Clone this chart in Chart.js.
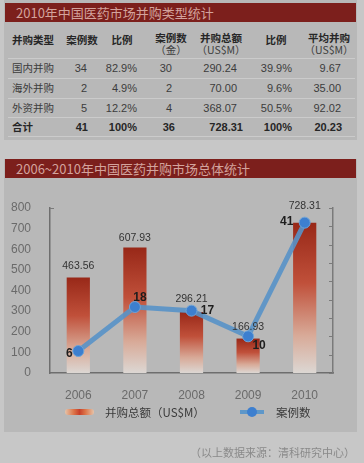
<!DOCTYPE html>
<html>
<head>
<meta charset="utf-8">
<script src="https://cdn.jsdelivr.net/npm/chart.js@4.4.0/dist/chart.umd.min.js"></script>
<style>
  body { margin: 0; width: 364px; height: 463px; background: #c7c7c7; position: relative; overflow: hidden;
         font-family: "Liberation Sans", "Noto Sans CJK SC", sans-serif; }
  .panel { position: absolute; left: 4px; width: 353px; background: #b8b8b8; }
  .title { position: absolute; left: 5px; width: 351px; height: 19px; background: #7c1f1c; color: #d3a39d;
           font-size: 13px; line-height: 19px; text-indent: 11px; font-family: "Noto Sans CJK SC", sans-serif; }
  .t { position: absolute; font-size: 11px; line-height: 12px; color: #3c3c3c; white-space: nowrap; }
  .cjk { font-family: "Noto Sans CJK SC", sans-serif; font-size: 10.5px; }
  .b { font-weight: bold; color: #262626; }
  .sep { position: absolute; left: 8px; width: 347px; height: 1px; background: #cbcbcb; }
  #wrap { position: absolute; left: 0; top: 185px; width: 364px; height: 220px; }
  .lg { position: absolute; font-size: 11.5px; color: #3a3a3a; font-family: "Noto Sans CJK SC", sans-serif; line-height: 14px; }
</style>
</head>
<body>
<div class="panel" style="top:0;height:140px"></div>
<div class="panel" style="top:159px;height:273px"></div>
<div class="title" style="top:3px">2010年中国医药市场并购类型统计</div>
<div class="title" style="top:159px">2006~2010年中国医药并购市场总体统计</div>
<div id="table"></div>
<div id="wrap"><canvas id="chart" width="364" height="220"></canvas></div>

<div style="position:absolute;left:65px;top:409px;width:29px;height:6px;border-radius:3px;
  background:linear-gradient(90deg,#e6c3a8,#dc7448 30%,#c8402a 50%,#dc7448 70%,#e6c3a8)"></div>
<div class="lg" style="left:105px;top:405px">并购总额（US$M）</div>
<div style="position:absolute;left:240px;top:410px;width:24px;height:4px;background:#5e97c9"></div>
<div style="position:absolute;left:247px;top:407px;width:10px;height:10px;border-radius:5px;background:#3d7fcf"></div>
<div class="lg" style="left:276px;top:405px">案例数</div>
<div class="t cjk" style="right:9px;top:446px;color:#8a8a8a;font-size:11px">（以上数据来源：清科研究中心）</div>

<script>
// table rows
const typeNames = ["国内并购", "海外并购", "外资并购"];
const caseNum = ["34", "2", "5"];
const caseRatio = ["82.9%", "4.9%", "12.2%"];
const caseWithAmount = ["30", "2", "4"];
const amountTotal = ["290.24", "70.00", "368.07"];
const amountRatio = ["39.9%", "9.6%", "50.5%"];
const amountAvg = ["9.67", "35.00", "92.02"];
const totals = ["合计", "41", "100%", "36", "728.31", "100%", "20.23"];

// chart data
const years = ["2006", "2007", "2008", "2009", "2010"];
const dealAmounts = [463.56, 607.93, 296.21, 166.93, 728.31];
const caseCounts = [6, 18, 17, 10, 41];

const table = document.getElementById("table");

function cell(text, x, y, align, cls) {
  const d = document.createElement("div");
  d.className = "t " + (cls || "");
  d.textContent = text;
  d.style.top = (y - 6) + "px";
  if (align == "right") d.style.right = (364 - x) + "px";
  else if (align == "center") { d.style.left = (x - 50) + "px"; d.style.width = "100px"; d.style.textAlign = "center"; }
  else d.style.left = x + "px";
  table.appendChild(d);
}

// header
cell("并购类型", 12, 40, "left", "cjk b");
cell("案例数", 82, 40, "center", "cjk b");
cell("比例", 122, 40, "center", "cjk b");
cell("案例数", 171, 38, "center", "cjk b");
cell("（金）", 171, 50, "center", "cjk");
cell("并购总额", 221, 38, "center", "cjk b");
cell("（US$M）", 221, 50, "center", "cjk");
cell("比例", 276, 40, "center", "cjk b");
cell("平均并购", 329, 38, "center", "cjk b");
cell("（US$M）", 329, 50, "center", "cjk");

const rowY = [68, 88, 108];
const colRight = [87, 137, 172, 237, 292, 341];
for (let i = 0; i < typeNames.length; i++) {
  cell(typeNames[i], 12, rowY[i], "left", "cjk");
  const vals = [caseNum[i], caseRatio[i], caseWithAmount[i], amountTotal[i], amountRatio[i], amountAvg[i]];
  vals.forEach((v, j) => cell(v, colRight[j], rowY[i], "right"));
}
cell(totals[0], 12, 127, "left", "cjk b");
const totRight = [88, 137, 175, 243, 292, 342];
for (let j = 1; j < totals.length; j++) cell(totals[j], totRight[j - 1], 127, "right", "b");

[58, 78, 98, 117, 136].forEach(y => {
  const s = document.createElement("div");
  s.className = "sep";
  s.style.top = y + "px";
  table.appendChild(s);
});

// label tweaks (relative to the points / bars the library places)
const barLabelLift = [11, 10, 13, 11, 17];
const caseLabelOffsets = [[-9, 3], [5, -9], [16, 0], [11, 9], [-18, -1]];

function barFill(c) {
  const chart = c.chart;
  if (!chart.chartArea || c.dataIndex === undefined) return "#b03a22";
  const top = chart.scales.y.getPixelForValue(dealAmounts[c.dataIndex]);
  const bottom = chart.scales.y.getPixelForValue(0);
  const g = chart.ctx.createLinearGradient(0, top, 0, bottom);
  g.addColorStop(0, "#982818");
  g.addColorStop(0.4, "#c0503a");
  g.addColorStop(0.75, "#d8aa98");
  g.addColorStop(1, "#dcd7d3");
  return g;
}

const labelPlugin = {
  id: "labels",
  afterDatasetsDraw(chart) {
    const ctx = chart.ctx;
    ctx.save();
    ctx.textAlign = "center";
    ctx.textBaseline = "middle";
    ctx.fillStyle = "#333";
    ctx.font = "10.5px 'Liberation Sans', sans-serif";
    chart.getDatasetMeta(0).data.forEach((el, i) => {
      ctx.fillText(dealAmounts[i].toFixed(2), el.x, el.y - barLabelLift[i]);
    });
    ctx.fillStyle = "#1e1e1e";
    ctx.font = "bold 12px 'Liberation Sans', sans-serif";
    chart.getDatasetMeta(1).data.forEach((el, i) => {
      const o = caseLabelOffsets[i];
      ctx.fillText(String(caseCounts[i]), el.x + o[0], el.y + o[1]);
    });
    // small inner ticks on the right axis
    const y1 = chart.scales.y1;
    const a = chart.chartArea;
    ctx.strokeStyle = "#7a7a7a";
    ctx.lineWidth = 1;
    y1.ticks.forEach(t => {
      const py = Math.round(y1.getPixelForValue(t.value)) + 0.5;
      ctx.beginPath();
      ctx.moveTo(a.right - 4, py);
      ctx.lineTo(a.right, py);
      ctx.stroke();
    });
    const ty = Math.round(chart.scales.y.getPixelForValue(800)) + 0.5;
    ctx.beginPath();
    ctx.moveTo(a.left, ty);
    ctx.lineTo(a.left + 4, ty);
    ctx.stroke();
    ctx.restore();
  }
};

new Chart(document.getElementById("chart"), {
  data: {
    labels: years,
    datasets: [
      {
        type: "bar",
        label: "并购总额（US$M）",
        data: dealAmounts,
        yAxisID: "y",
        backgroundColor: barFill,
        borderWidth: 0,
        categoryPercentage: 1,
        barPercentage: 0.41,
        order: 2
      },
      {
        type: "line",
        label: "案例数",
        data: caseCounts,
        yAxisID: "y1",
        borderColor: "rgba(88,146,200,0.9)",
        borderWidth: 5,
        pointRadius: 5.5,
        pointBackgroundColor: "#3d7fcf",
        pointBorderColor: "#6ea3d6",
        pointBorderWidth: 1,
        tension: 0,
        order: 1
      }
    ]
  },
  options: {
    responsive: false,
    animation: false,
    layout: { padding: { top: 23 } },
    plugins: { legend: { display: false }, tooltip: { enabled: false } },
    scales: {
      x: {
        grid: { display: false },
        border: { color: "#6e6e6e", width: 1.5 },
        ticks: { color: "#6a6a6a", padding: 7, font: { size: 12, family: "'Liberation Sans', sans-serif" } },
        afterFit(s) { s.height = 32; }
      },
      y: {
        position: "left",
        min: 0, max: 800,
        grid: { display: false },
        border: { color: "#6e6e6e", width: 1.5 },
        ticks: { stepSize: 100, color: "#6a6a6a", padding: 11, font: { size: 12, family: "'Liberation Sans', sans-serif" } },
        afterFit(s) { s.width = 50; }
      },
      y1: {
        position: "right",
        min: 0, max: 45,
        grid: { display: false },
        border: { color: "#7a7a7a", width: 1.5 },
        ticks: { stepSize: 5, display: false },
        afterFit(s) { s.width = 31; }
      }
    }
  },
  plugins: [labelPlugin]
});
</script>
</body>
</html>
